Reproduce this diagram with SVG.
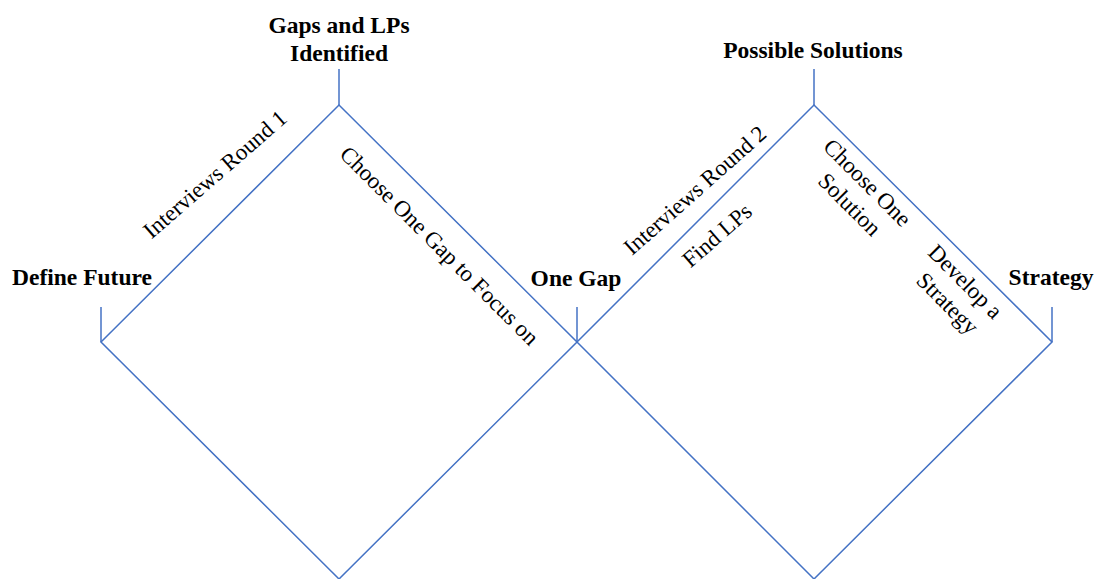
<svg xmlns="http://www.w3.org/2000/svg" width="1099" height="579" viewBox="0 0 1099 579">
  <style>
    .edge { fill: none; stroke: #4472C4; stroke-width: 1.5; }
    .stage { font-family: "Liberation Serif", "Times New Roman", serif; font-size: 23.5px; font-weight: bold; fill: #000; text-anchor: middle; }
    .step { font-family: "Liberation Serif", "Times New Roman", serif; font-size: 23px; fill: #000; text-anchor: middle; }
  </style>
  <rect width="1099" height="579" fill="#ffffff"/>

  <!-- two diamonds and the stage ticks -->
  <g id="connectors">
    <path class="edge" d="M101,342 L339,105 L577,342 L339,579 Z"/>
    <path class="edge" d="M577,342 L814,105 L1052,342 L814,579 Z"/>
    <line class="edge" x1="101" y1="307" x2="101" y2="342"/>
    <line class="edge" x1="339" y1="69" x2="339" y2="105"/>
    <line class="edge" x1="577" y1="307" x2="577" y2="342"/>
    <line class="edge" x1="814" y1="69" x2="814" y2="105"/>
    <line class="edge" x1="1052" y1="307" x2="1052" y2="342"/>
  </g>

  <!-- stage labels at the vertices -->
  <g id="define-future">
    <text class="stage" x="82" y="285">Define Future</text>
  </g>
  <g id="gaps-identified">
    <text class="stage" x="339" y="33">Gaps and LPs</text>
    <text class="stage" x="339" y="61">Identified</text>
  </g>
  <g id="one-gap">
    <text class="stage" x="576" y="286">One Gap</text>
  </g>
  <g id="possible-solutions">
    <text class="stage" x="813" y="58">Possible Solutions</text>
  </g>
  <g id="strategy">
    <text class="stage" x="1051" y="285">Strategy</text>
  </g>

  <!-- activity labels along the edges -->
  <g id="interviews-round-1">
    <text class="step" transform="translate(220,180) rotate(-41)">Interviews Round 1</text>
  </g>
  <g id="choose-gap">
    <text class="step" transform="translate(434,251) rotate(45)">Choose One Gap to Focus on</text>
  </g>
  <g id="interviews-round-2">
    <text class="step" transform="translate(700,196) rotate(-41.5)">Interviews Round 2</text>
  </g>
  <g id="find-lps">
    <text class="step" transform="translate(722,241) rotate(-41)">Find LPs</text>
  </g>
  <g id="choose-solution">
    <text class="step" transform="translate(864,190) rotate(45)">
      <tspan x="0" y="0">Choose One</tspan>
      <tspan x="0" y="28">Solution</tspan>
    </text>
  </g>
  <g id="develop-strategy">
    <text class="step" transform="translate(962,289) rotate(45)">
      <tspan x="0" y="0">Develop a</tspan>
      <tspan x="0" y="28">Strategy</tspan>
    </text>
  </g>
</svg>
